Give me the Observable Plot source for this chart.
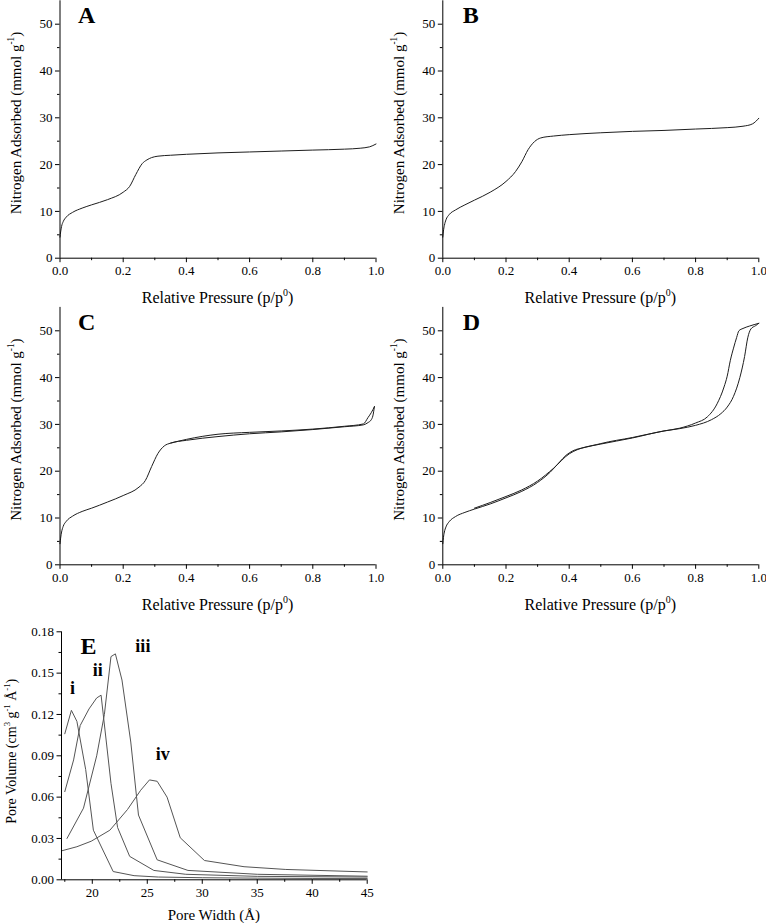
<!DOCTYPE html>
<html><head><meta charset="utf-8">
<script src="https://cdn.jsdelivr.net/npm/d3@7"></script>
<script src="https://cdn.jsdelivr.net/npm/@observablehq/plot@0.6"></script>
<style>
body{margin:0;background:#fff;}
#fig{position:relative;width:766px;height:923px;background:#fff;overflow:hidden;}
#fig svg{position:absolute;overflow:visible;}
</style></head><body><div id="fig"></div>
<script>
// ---------- data ----------
// Panel A isotherm
const aX = [0, 0.002, 0.005, 0.01, 0.02, 0.04, 0.07, 0.1, 0.15, 0.2, 0.22, 0.24, 0.26, 0.275, 0.29, 0.31, 0.35, 0.4, 0.5, 0.6, 0.7, 0.8, 0.9, 0.95, 0.98, 1.0];
const aY = [4.5, 5.6, 6.8, 7.8, 8.8, 9.8, 10.7, 11.4, 12.5, 14.1, 15.3, 17.9, 20.2, 21.0, 21.5, 21.8, 22.0, 22.2, 22.5, 22.7, 22.9, 23.1, 23.3, 23.5, 23.8, 24.4];
// Panel B isotherm
const bX = [0, 0.002, 0.005, 0.01, 0.02, 0.04, 0.07, 0.1, 0.15, 0.2, 0.23, 0.25, 0.27, 0.29, 0.31, 0.35, 0.4, 0.5, 0.6, 0.7, 0.8, 0.9, 0.95, 0.98, 1.0];
const bY = [4.5, 5.8, 7.0, 8.2, 9.3, 10.3, 11.4, 12.4, 14.1, 16.4, 18.5, 20.6, 23.2, 24.9, 25.7, 26.1, 26.4, 26.8, 27.1, 27.3, 27.6, 27.9, 28.2, 28.7, 29.9];
// Panel C adsorption / desorption
const cAdsX = [0, 0.002, 0.005, 0.01, 0.02, 0.04, 0.07, 0.1, 0.15, 0.2, 0.25, 0.27, 0.29, 0.31, 0.33, 0.35, 0.4, 0.5, 0.6, 0.7, 0.8, 0.9, 0.96, 0.975, 0.985, 0.99, 0.995];
const cAdsY = [4.5, 5.7, 7.0, 8.2, 9.3, 10.4, 11.4, 12.1, 13.4, 14.8, 16.6, 18.0, 21.0, 23.8, 25.4, 26.0, 26.6, 27.4, 28.0, 28.4, 28.9, 29.5, 29.9, 30.4, 31.0, 31.8, 33.8];
const cDesX = [0.35, 0.4, 0.5, 0.6, 0.7, 0.8, 0.9, 0.96, 0.975, 0.985, 0.995];
const cDesY = [26.0, 26.8, 27.9, 28.3, 28.6, 29.0, 29.6, 30.1, 31.5, 32.5, 33.8];
// Panel D adsorption / desorption
const dAdsX = [0, 0.002, 0.005, 0.01, 0.02, 0.04, 0.07, 0.1, 0.15, 0.2, 0.25, 0.3, 0.34, 0.37, 0.39, 0.41, 0.45, 0.5, 0.6, 0.7, 0.75, 0.8, 0.85, 0.88, 0.9, 0.92, 0.94, 0.955, 0.965, 0.975, 0.99, 1.0];
const dAdsY = [4.5, 5.8, 7.0, 8.1, 9.2, 10.3, 11.2, 11.9, 13.0, 14.3, 15.7, 17.6, 19.8, 22.0, 23.4, 24.3, 25.1, 25.8, 27.1, 28.6, 29.1, 29.8, 31.0, 32.3, 33.7, 36.0, 40.0, 44.5, 48.5, 50.4, 51.1, 51.6];
const dDesX = [0.1, 0.15, 0.2, 0.25, 0.3, 0.35, 0.4, 0.5, 0.6, 0.7, 0.75, 0.8, 0.837, 0.868, 0.89, 0.9, 0.91, 0.92, 0.93, 0.937, 0.95, 0.97, 1.0];
const dDesY = [12.1, 13.3, 14.6, 16.0, 17.9, 20.6, 23.7, 25.9, 27.2, 28.6, 29.2, 30.3, 31.6, 34.4, 38.0, 40.3, 43.7, 46.3, 48.6, 50.0, 50.5, 51.0, 51.6];
// Panel E pore size distributions
const eIX = [17.5, 18.1, 18.6, 19.4, 20.1, 21.9, 23.8, 26, 30, 35, 40, 45];
const eIY = [0.106, 0.123, 0.115, 0.080, 0.036, 0.006, 0.003, 0.002, 0.0015, 0.0012, 0.001, 0.001];
const eIIX = [17.5, 18.3, 18.9, 19.7, 20.4, 20.8, 21.7, 22.3, 23.4, 25.6, 28.5, 35, 45];
const eIIY = [0.064, 0.087, 0.112, 0.124, 0.132, 0.134, 0.070, 0.038, 0.017, 0.0068, 0.004, 0.0025, 0.002];
const eIIIX = [17.7, 19.2, 20.4, 21.1, 21.7, 22.1, 22.7, 23.5, 24.2, 25.9, 28.7, 35, 45];
const eIIIY = [0.030, 0.052, 0.090, 0.120, 0.162, 0.164, 0.145, 0.100, 0.047, 0.0145, 0.0068, 0.004, 0.0026];
const eIVX = [17.2, 18.6, 19.9, 21.6, 23.2, 24.4, 25.2, 25.9, 26.8, 28.0, 30.2, 33.8, 37.6, 45];
const eIVY = [0.021, 0.024, 0.028, 0.036, 0.051, 0.065, 0.0725, 0.0715, 0.060, 0.0305, 0.014, 0.0095, 0.0075, 0.0057];
const eLabelText = ["i", "ii", "iii", "iv"];
const eLabelX = [18.2, 20.5, 24.6, 26.4];
const eLabelY = [0.135, 0.148, 0.165, 0.0866];

// tick values
const isoXMajor = [0, 0.2, 0.4, 0.6, 0.8, 1.0];
const isoXMinor = [0.1, 0.3, 0.5, 0.7, 0.9];
const isoYMajor = [0, 10, 20, 30, 40, 50];
const isoYMinor = [5, 15, 25, 35, 45];
const eXMajor = [20, 25, 30, 35, 40, 45];
const eXMinor = [17.5, 22.5, 27.5, 32.5, 37.5, 42.5];
const eYMajor = [0, 0.03, 0.06, 0.09, 0.12, 0.15, 0.18];
const eYMinor = [0.015, 0.045, 0.075, 0.105, 0.135, 0.165];

// ---------- drawing ----------
const FONT = '"Liberation Serif","Times New Roman",Times,serif';
const INK = "#000";
const fig = document.getElementById("fig");

function addTitle(svg, {x, y, rotate, parts, size}) {
  const t = d3.select(svg).append("text")
    .attr("transform", `translate(${x},${y})` + (rotate ? " rotate(-90)" : ""))
    .attr("text-anchor", "middle")
    .attr("fill", INK)
    .style("font-family", FONT)
    .style("font-size", size + "px");
  let shift = 0;
  for (const p of parts) {
    const sp = t.append("tspan").text(p.t);
    if (p.sup) {
      sp.attr("font-size", (size * 0.62) + "px").attr("dy", (-size * 0.45 - shift));
      shift = -size * 0.45;
    } else {
      if (shift !== 0) sp.attr("dy", -shift);
      shift = 0;
    }
  }
}

function panel(cfg) {
  const rows = cfg.series.flatMap((s, k) => s.x.map((x, j) => ({x, y: s.y[j], k})));
  const marks = [
    Plot.line(rows, {x: "x", y: "y", z: "k", curve: cfg.curve, stroke: cfg.stroke, strokeWidth: 1}),
    Plot.ruleX([cfg.xDomain[0]], {stroke: INK, strokeWidth: 1}),
    Plot.ruleY([cfg.yDomain[0]], {stroke: INK, strokeWidth: 1}),
    Plot.axisX(cfg.xMinor, {tickSize: 2.5, tickFormat: () => "", label: null, stroke: INK}),
    Plot.axisY(cfg.yMinor, {tickSize: 2.5, tickFormat: () => "", label: null, stroke: INK}),
    Plot.axisX(cfg.xMajor, {tickSize: 4.5, tickPadding: 3, tickFormat: cfg.xFmt, label: null, stroke: INK, fill: INK}),
    Plot.axisY(cfg.yMajor, {tickSize: 4.5, tickPadding: 3, tickFormat: cfg.yFmt, label: null, stroke: INK, fill: INK}),
    Plot.text([cfg.letter], {frameAnchor: "top-left", lineAnchor: "bottom", textAnchor: "start",
      dx: cfg.letterDx, dy: 22.5, fontSize: 24, fontWeight: "bold", fill: INK})
  ];
  if (cfg.labels) {
    marks.push(Plot.text(cfg.labels, {x: "x", y: "y", text: "t", lineAnchor: "bottom", textAnchor: "middle",
      fontSize: 18, fontWeight: "bold", fill: INK}));
  }
  const svg = Plot.plot({
    width: cfg.box.w,
    height: cfg.box.h,
    marginLeft: cfg.frame.l - cfg.box.x,
    marginRight: cfg.box.x + cfg.box.w - cfg.frame.r,
    marginTop: cfg.frame.t - cfg.box.y,
    marginBottom: cfg.box.y + cfg.box.h - cfg.frame.b,
    x: {type: "linear", domain: cfg.xDomain},
    y: {type: "linear", domain: cfg.yDomain},
    style: {fontFamily: FONT, fontSize: "13px", background: "none", overflow: "visible", color: INK, maxWidth: "none"},
    marks
  });
  svg.style.left = cfg.box.x + "px";
  svg.style.top = cfg.box.y + "px";
  const cx = (cfg.frame.l + cfg.frame.r) / 2 - cfg.box.x;
  const cy = (cfg.frame.t + cfg.frame.b) / 2 - cfg.box.y;
  addTitle(svg, {x: cx, y: cfg.frame.b - cfg.box.y + cfg.xTitleOff, parts: cfg.xTitle, size: cfg.xTitleSize});
  addTitle(svg, {x: cfg.frame.l - cfg.box.x - cfg.yTitleOff, y: cy + cfg.yTitleShift, rotate: true, parts: cfg.yTitle, size: cfg.yTitleSize});
  fig.appendChild(svg);
}

const isoXTitle = [{t: "Relative Pressure (p/p"}, {t: "0", sup: true}, {t: ")"}];
const isoYTitle = [{t: "Nitrogen Adsorbed (mmol g"}, {t: "-1", sup: true}, {t: ")"}];

const isoCommon = {
  xDomain: [0, 1], yDomain: [0, 55],
  xMajor: isoXMajor, xMinor: isoXMinor, yMajor: isoYMajor, yMinor: isoYMinor,
  xFmt: d3.format(".1f"), yFmt: d3.format("d"),
  curve: "monotone-x", stroke: "#1e1e1e",
  xTitle: isoXTitle, yTitle: isoYTitle,
  xTitleOff: 45.5, xTitleSize: 16, yTitleOff: 38.5, yTitleShift: -6, yTitleSize: 15
};

panel({...isoCommon, letter: "A", letterDx: 18,
  box: {x: 0, y: 0, w: 383, h: 306}, frame: {l: 59.5, r: 375.5, t: 0.3, b: 257.7},
  series: [{x: aX, y: aY}]});
panel({...isoCommon, letter: "B", letterDx: 20,
  box: {x: 383, y: 0, w: 383, h: 306}, frame: {l: 442.3, r: 758.3, t: 0.3, b: 257.7},
  series: [{x: bX, y: bY}]});
panel({...isoCommon, letter: "C", letterDx: 18,
  box: {x: 0, y: 306, w: 383, h: 310}, frame: {l: 59.5, r: 375.5, t: 306.9, b: 564.3},
  series: [{x: cAdsX, y: cAdsY}, {x: cDesX, y: cDesY}]});
panel({...isoCommon, letter: "D", letterDx: 20,
  box: {x: 383, y: 306, w: 383, h: 310}, frame: {l: 442.3, r: 758.3, t: 306.9, b: 564.3},
  series: [{x: dAdsX, y: dAdsY}, {x: dDesX, y: dDesY}]});

panel({
  letter: "E", letterDx: 19,
  box: {x: 0, y: 616, w: 383, h: 307}, frame: {l: 61, r: 366.7, t: 631.3, b: 879.3},
  xDomain: [17.2, 45], yDomain: [0, 0.18],
  xMajor: eXMajor, xMinor: eXMinor, yMajor: eYMajor, yMinor: eYMinor,
  xFmt: d3.format("d"), yFmt: d3.format(".2f"),
  curve: "linear", stroke: "#555",
  series: [{x: eIX, y: eIY}, {x: eIIX, y: eIIY}, {x: eIIIX, y: eIIIY}, {x: eIVX, y: eIVY}],
  labels: eLabelText.map((t, i) => ({t, x: eLabelX[i], y: eLabelY[i]})),
  xTitle: [{t: "Pore Width (Å)"}], yTitle: [{t: "Pore Volume (cm"}, {t: "3", sup: true}, {t: " g"}, {t: "-1", sup: true}, {t: " Å"}, {t: "-1", sup: true}, {t: ")"}],
  xTitleOff: 40.7, xTitleSize: 15, yTitleOff: 45, yTitleShift: -4, yTitleSize: 14
});
</script></body></html>
